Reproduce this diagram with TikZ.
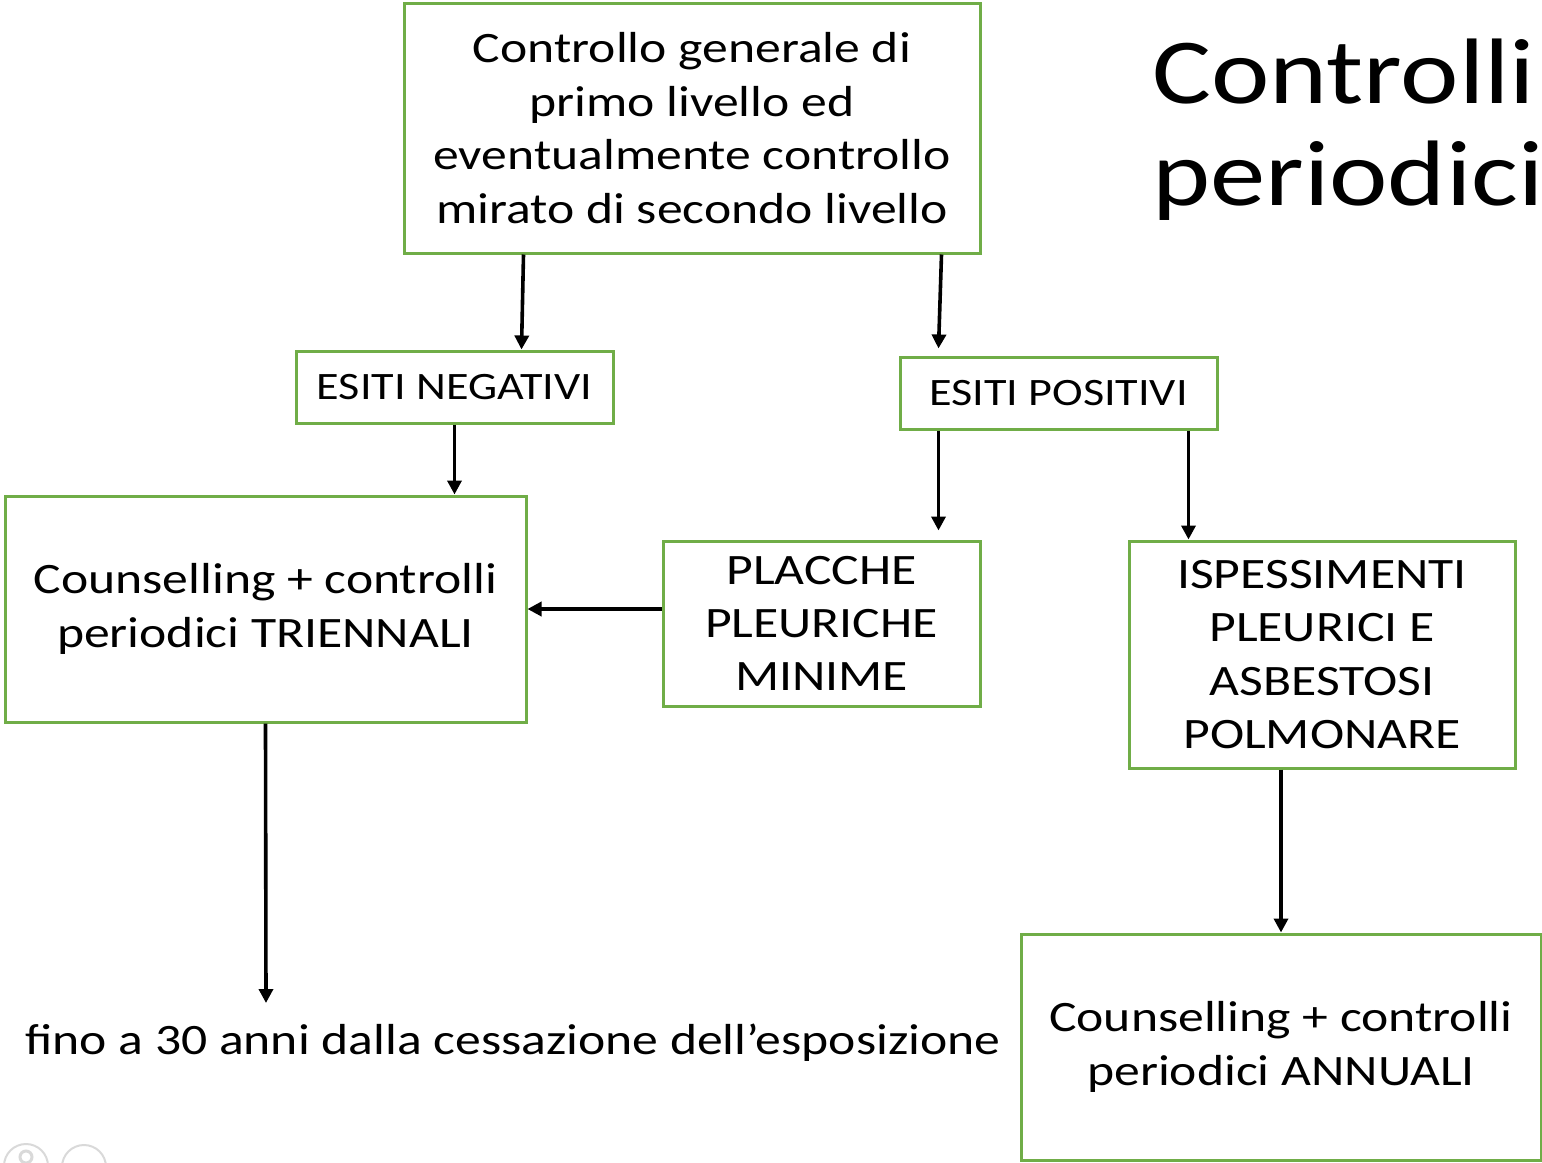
\documentclass[tikz,border=0pt]{standalone}
\usepackage{fontspec}
\setmainfont[FakeStretch=1.19]{Carlito}
\newfontfamily\titlefont[FakeStretch=1.19]{Carlito}
\usetikzlibrary{arrows.meta,calc}
\definecolor{boxgreen}{HTML}{70AD47}
\begin{document}
\begin{tikzpicture}[x=0.5pt,y=-0.5pt,
  gbox/.style={draw=boxgreen,line width=1.5pt,inner sep=0pt,align=center,
    font=\fontsize{21.7}{26.7}\selectfont,
    execute at begin node={\rule{0pt}{23.5pt}}},
  ebox/.style={draw=boxgreen,line width=1.5pt,inner sep=0pt,align=center,
    font=\fontsize{19.4}{23}\selectfont},
  arr/.style={line width=1.8pt,-{Triangle[length=7pt,width=7pt]}}]
\useasboundingbox (0,0) rectangle (1542,1162);
% nodes
\node[gbox,minimum width=288pt,minimum height=125pt] (top) at (692,128)
  {Controllo generale di\\primo livello ed\\eventualmente controllo\\mirato di secondo livello};
\node[ebox,minimum width=158.5pt,minimum height=36pt] (neg) at (454.5,387) {ESITI NEGATIVI};
\node[ebox,minimum width=158.5pt,minimum height=36pt] (pos) at (1058.5,393) {ESITI POSITIVI};
\node[gbox,minimum width=260.5pt,minimum height=113pt] (tri) at (265.5,609)
  {Counselling + controlli\\periodici TRIENNALI};
\node[gbox,minimum width=158.5pt,minimum height=82.5pt] (pla) at (821.5,623.5)
  {PLACCHE\\PLEURICHE\\MINIME};
\node[gbox,minimum width=193pt,minimum height=113.5pt] (isp) at (1322,654.5)
  {ISPESSIMENTI\\PLEURICI E\\ASBESTOSI\\POLMONARE};
\node[gbox,minimum width=260pt,minimum height=113pt] (ann) at (1281,1047)
  {Counselling + controlli\\periodici ANNUALI};
\node[font=\fontsize{21.7}{26.5}\selectfont,inner sep=0pt] (fino) at (513,1043)
  {fino a 30 anni dalla cessazione dell’esposizione};
\node[font=\titlefont\fontsize{46.5}{51}\selectfont,align=left,anchor=base west,inner sep=0pt] (title) at (1152,205)
  {Controlli\\periodici};
\coordinate (finoend) at (266,1003);
% connectors
\draw[arr] ($(top.south west)+(121,0)$) -- ($(neg.north west)+(227,0)$);
\draw[arr] ($(top.south west)+(539,0)$) -- ($(pos.north west)+(40,-7)$);
\draw[arr] (neg.south) -- (tri.north -| neg.south);
\draw[arr] ($(pos.south west)+(40,0)$) -- ($(pla.north west)+(277,-9)$);
\draw[arr] ($(pos.south west)+(290,0)$) -- ($(isp.north west)+(61,0)$);
\draw[arr] ($(pla.west)+(0,-14.5)$) -- ($(tri.east |- pla.west)+(0,-14.5)$);
\draw[arr] (tri.south) -- (finoend);
\draw[arr] (isp.south -| ann.north) -- (ann.north);
% viewer icons
\draw[black!15,line width=1pt] (26,1166) circle (22) (84,1167) circle (22);
\draw[black!15,line width=1.5pt] (26,1157) circle (6);
\end{tikzpicture}
\end{document}
